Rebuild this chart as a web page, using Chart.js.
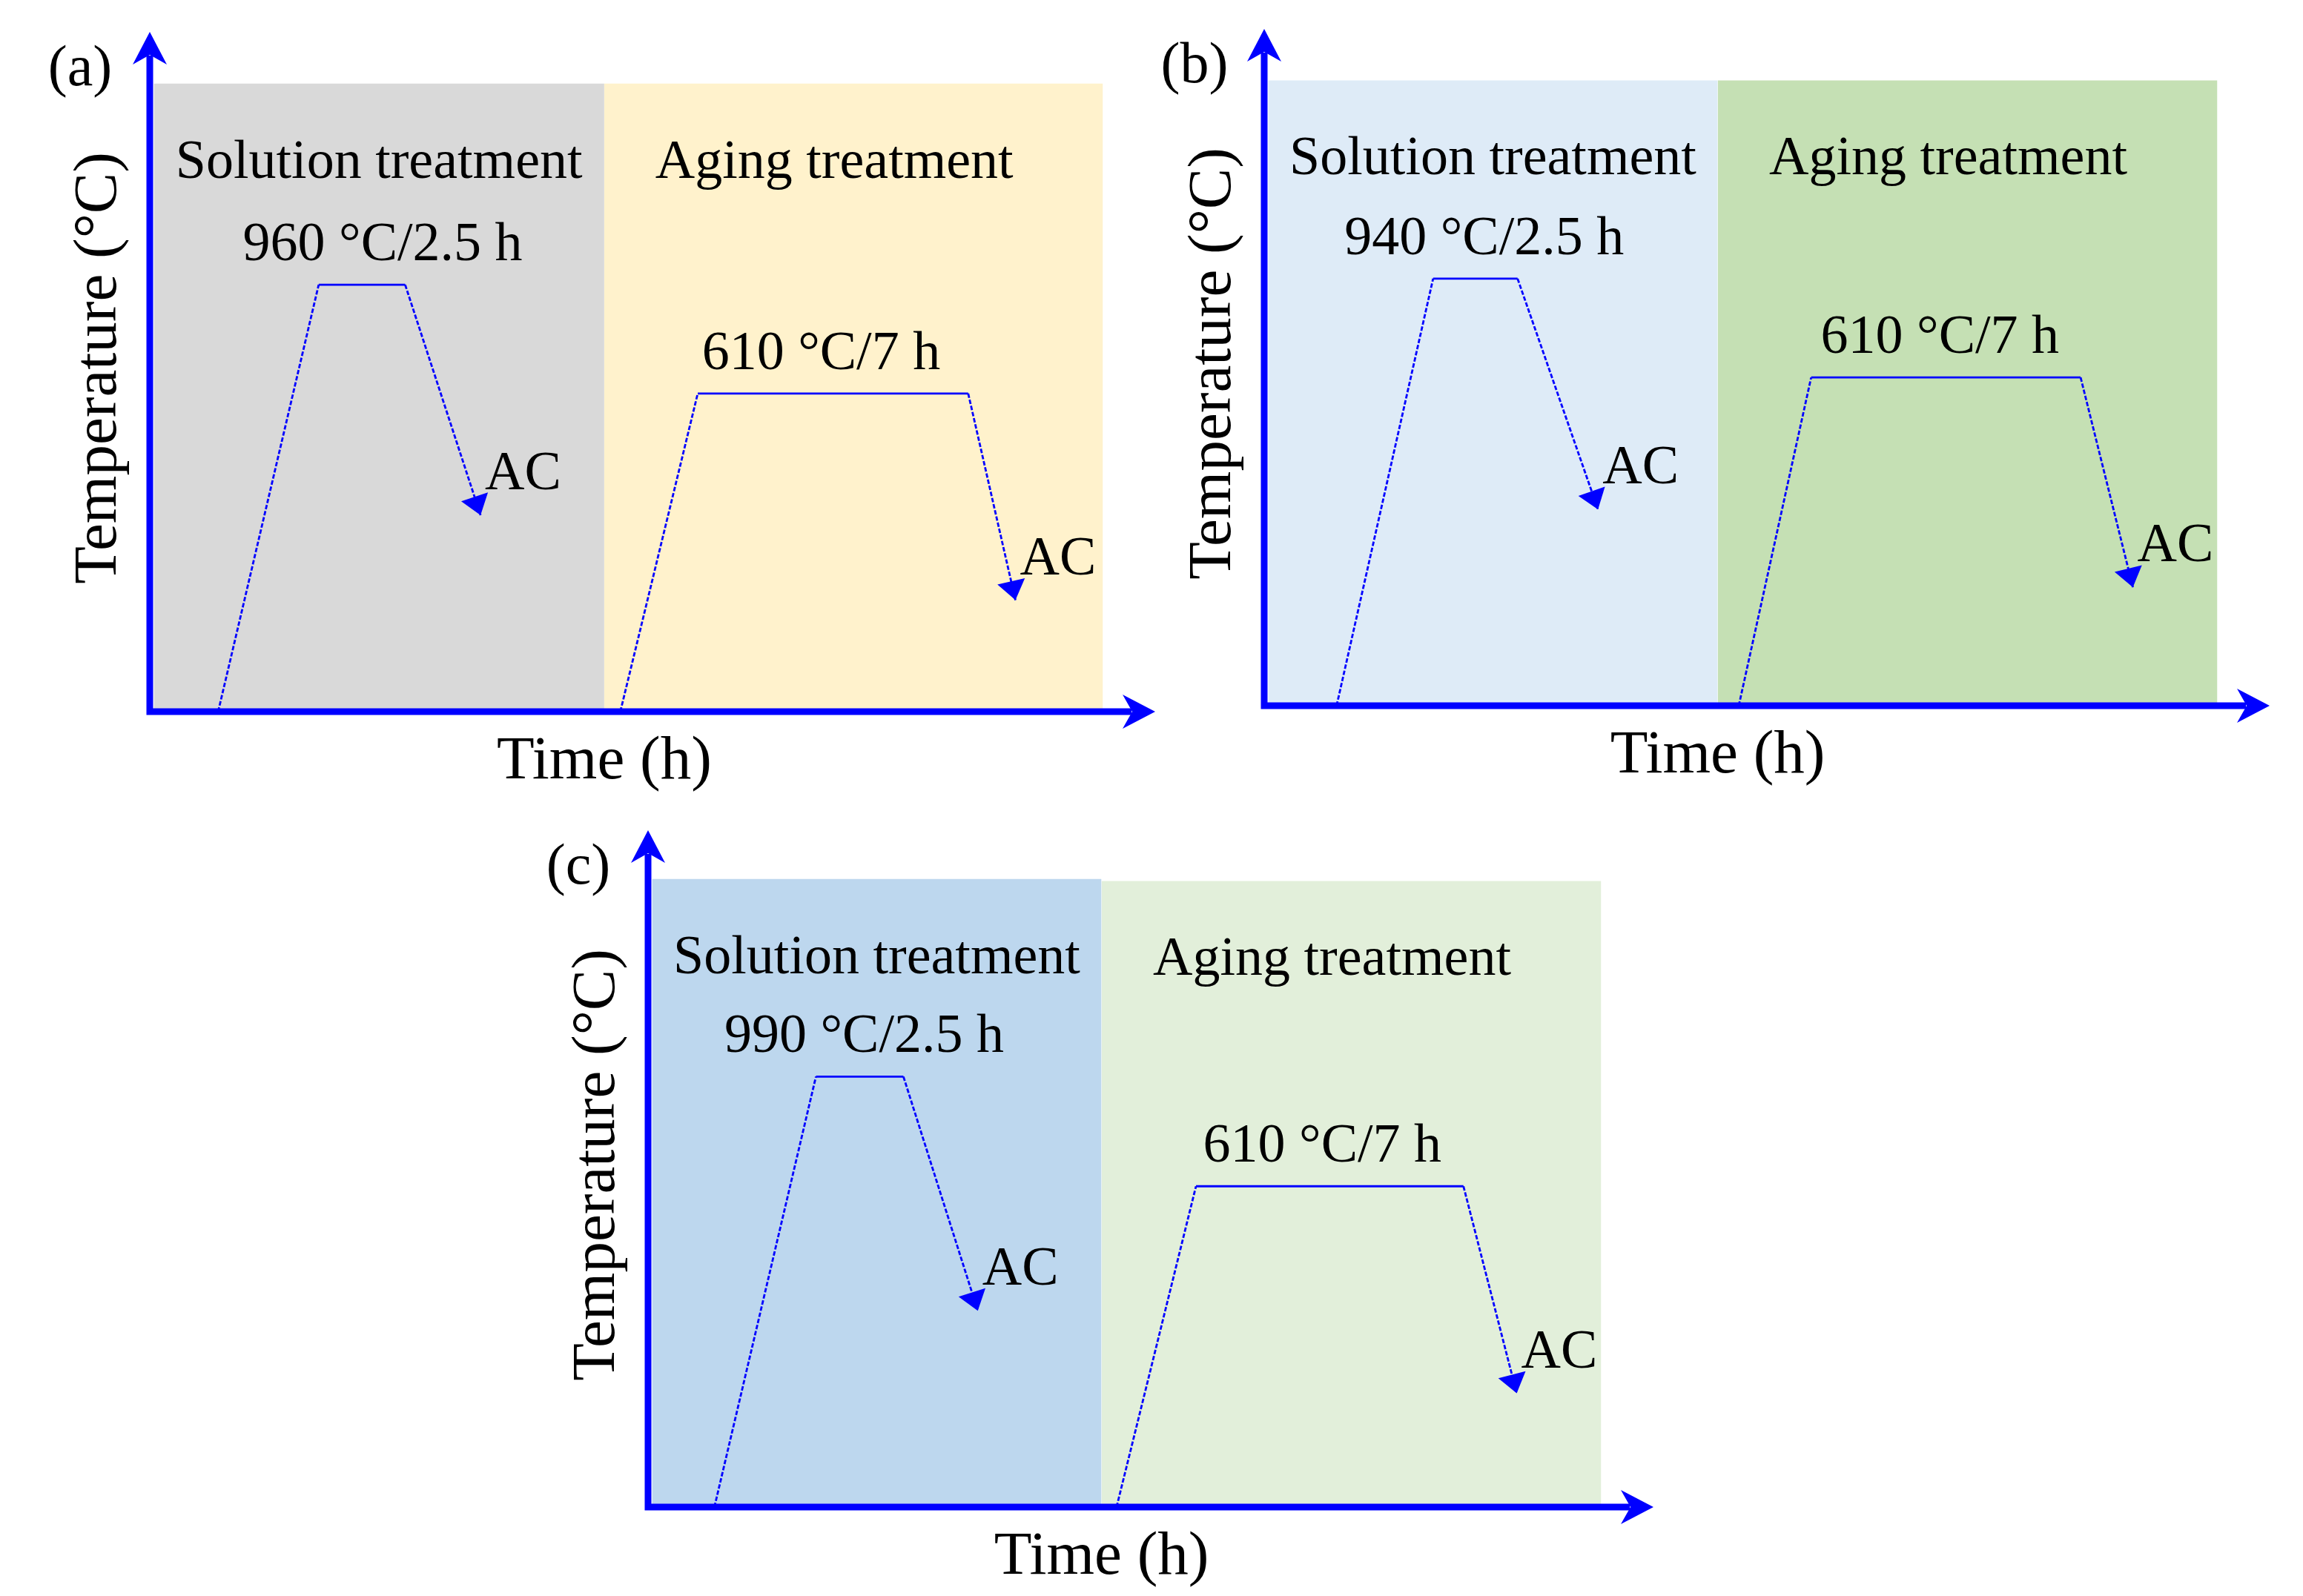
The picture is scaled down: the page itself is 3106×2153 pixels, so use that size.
<!DOCTYPE html>
<html>
<head>
<meta charset="utf-8">
<title>Heat treatment schedules</title>
<script src="https://cdn.jsdelivr.net/npm/chart.js@4.4.1/dist/chart.umd.min.js"></script>
<style>
  html, body { margin: 0; padding: 0; background: #fff; }
  #page { position: relative; width: 3106px; height: 2153px; overflow: hidden; background: #fff; }
  canvas { position: absolute; }
</style>
</head>
<body>
<div id="page">
  <canvas id="panelA" width="1600" height="1090" style="left:0px;top:0px"></canvas>
  <canvas id="panelB" width="1566" height="1090" style="left:1540px;top:0px"></canvas>
  <canvas id="panelC" width="1600" height="1053" style="left:700px;top:1100px"></canvas>
</div>
<script>
// ---- data (axes run 0..100 in arbitrary time / temperature units) ----
const regionTitles = ["Solution treatment", "Aging treatment"];
const panelLetters = ["(a)", "(b)", "(c)"];
const xTitle = "Time (h)";
const yTitle = "Temperature (°C)";
const coolLabel = "AC";

// panel (a)
const regionStartA = [0.4, 45.2];
const regionEndA = [45.2, 94.8];
const regionTopA = [92.4, 92.4];
const solutionTimeA = [6.8, 16.8, 25.4, 32.9];
const solutionTempA = [0, 62.8, 62.8, 28.9];
const agingTimeA = [46.8, 54.5, 81.4, 86.1];
const agingTempA = [0, 46.8, 46.8, 16.4];
const holdLabelsA = ["960 °C/2.5 h", "610 °C/7 h"];

// panel (b)
const regionStartB = [0.4, 45.1];
const regionEndB = [45.1, 94.8];
const regionTopB = [92.4, 92.4];
const solutionTimeB = [7.2, 16.8, 25.2, 33.2];
const solutionTempB = [0, 63.1, 63.1, 29.0];
const agingTimeB = [47.2, 54.4, 81.2, 86.4];
const agingTempB = [0, 48.5, 48.5, 17.5];
const holdLabelsB = ["940 °C/2.5 h", "610 °C/7 h"];

// panel (c)
const regionStartC = [0.4, 45.1];
const regionEndC = [45.1, 94.8];
const regionTopC = [92.8, 92.5];
const solutionTimeC = [6.6, 16.7, 25.4, 32.8];
const solutionTempC = [0, 63.6, 63.6, 29.0];
const agingTimeC = [46.6, 54.5, 81.1, 86.4];
const agingTempC = [0, 47.4, 47.4, 16.8];
const holdLabelsC = ["990 °C/2.5 h", "610 °C/7 h"];

// ---- styles ----
const BLUE = "#0000ff";
const SERIF = '"Liberation Serif", "Times New Roman", serif';
const colorsA = ["#d9d9d9", "#fff2cc"];
const colorsB = ["#deebf7", "#c5e0b4"];
const colorsC = ["#bdd7ee", "#e2efda"];
const titleShift = [0, -26];

function zipPoints(xs, ys) {
  return xs.map((x, i) => ({ x: x, y: ys[i] }));
}

function rectPoints(start, end, top) {
  return [{ x: start, y: 0 }, { x: start, y: top }, { x: end, y: top }, { x: end, y: 0 }];
}

// stealth arrow head pointing along (dx, dy)
function drawStealth(ctx, tipX, tipY, dx, dy, len, hw, notch) {
  const px = -dy, py = dx;
  const bx = tipX - dx * len, by = tipY - dy * len;
  const nx = tipX - dx * (len - notch), ny = tipY - dy * (len - notch);
  ctx.beginPath();
  ctx.moveTo(tipX, tipY);
  ctx.lineTo(bx + px * hw, by + py * hw);
  ctx.lineTo(nx, ny);
  ctx.lineTo(bx - px * hw, by - py * hw);
  ctx.closePath();
  ctx.fill();
}

function decor(cfg) {
  return {
    id: "panelDecor",
    afterDatasetsDraw(chart) {
      const ctx = chart.ctx;
      ctx.save();
      ctx.fillStyle = BLUE;
      chart.data.datasets.forEach((ds, i) => {
        if (!ds.isProfile) return;
        const pts = chart.getDatasetMeta(i).data;
        const p0 = pts[pts.length - 2], p1 = pts[pts.length - 1];
        const a = Math.atan2(p1.y - p0.y, p1.x - p0.x);
        drawStealth(ctx, p1.x, p1.y, Math.cos(a), Math.sin(a), 26, 19, 0);
      });
      ctx.restore();
    },
    afterDraw(chart) {
      const ctx = chart.ctx;
      const area = chart.chartArea;
      const sx = chart.scales.x, sy = chart.scales.y;
      ctx.save();

      // axes with arrows
      ctx.strokeStyle = BLUE;
      ctx.fillStyle = BLUE;
      ctx.lineWidth = 9;
      ctx.beginPath();
      ctx.moveTo(area.left, area.bottom + 4.5);
      ctx.lineTo(area.left, area.top + 32);
      ctx.moveTo(area.left - 4.5, area.bottom);
      ctx.lineTo(area.right - 32, area.bottom);
      ctx.stroke();
      drawStealth(ctx, area.left, area.top, 0, -1, 44, 23, 13);
      drawStealth(ctx, area.right, area.bottom, 1, 0, 44, 23, 13);

      ctx.fillStyle = "#000";
      ctx.textBaseline = "alphabetic";

      // region titles
      ctx.font = "74px " + SERIF;
      ctx.textAlign = "center";
      regionTitles.forEach((t, i) => {
        const cx = (sx.getPixelForValue(cfg.starts[i]) + sx.getPixelForValue(cfg.ends[i])) / 2;
        ctx.fillText(t, cx + titleShift[i], sy.getPixelForValue(cfg.tops[i]) + 127);
      });

      // hold labels and AC labels
      [cfg.solution, cfg.aging].forEach((prof, i) => {
        const hx = (sx.getPixelForValue(prof.t[1]) + sx.getPixelForValue(prof.t[2])) / 2;
        const hy = sy.getPixelForValue(prof.T[1]);
        ctx.textAlign = "center";
        ctx.fillText(cfg.holdLabels[i], hx + cfg.holdShift[i], hy - 33);
        const n = prof.t.length - 1;
        ctx.textAlign = "left";
        ctx.fillText(coolLabel, sx.getPixelForValue(prof.t[n]) + 6, sy.getPixelForValue(prof.T[n]) - 35);
      });

      // axis titles
      ctx.font = "83px " + SERIF;
      ctx.textAlign = "center";
      ctx.fillText(xTitle, sx.getPixelForValue(cfg.ends[0]), area.bottom + 90);
      ctx.save();
      ctx.translate(area.left - 46, (area.top + area.bottom) / 2 - 5);
      ctx.rotate(-Math.PI / 2);
      ctx.fillText(yTitle, 0, 0);
      ctx.restore();

      // panel letter
      ctx.font = "78px " + SERIF;
      ctx.fillText(cfg.letter, area.left - 94, area.top + 72);
      ctx.restore();
    },
  };
}

function makePanel(cfg) {
  const regions = cfg.starts.map((s, i) => ({
    data: rectPoints(s, cfg.ends[i], cfg.tops[i]),
    fill: "origin",
    backgroundColor: cfg.colors[i],
    borderColor: "rgba(0,0,0,0)",
    borderWidth: 0,
    pointRadius: 0,
    tension: 0,
    order: 1,
  }));
  const profiles = [cfg.solution, cfg.aging].map((p) => ({
    isProfile: true,
    data: zipPoints(p.t, p.T),
    fill: false,
    borderColor: BLUE,
    borderWidth: 2.8,
    pointRadius: 0,
    tension: 0,
    order: 0,
    segment: {
      borderDash: (c) => (c.p0.parsed.y === c.p1.parsed.y ? undefined : [6, 2.5]),
    },
  }));

  return new Chart(document.getElementById(cfg.canvas), {
    type: "line",
    data: { datasets: profiles.concat(regions) },
    options: {
      responsive: false,
      animation: false,
      devicePixelRatio: 1,
      events: [],
      layout: { padding: cfg.padding },
      scales: {
        x: { type: "linear", min: 0, max: 100, display: false },
        y: { type: "linear", min: 0, max: 100, display: false },
      },
      plugins: {
        legend: { display: false },
        tooltip: { enabled: false },
      },
    },
    plugins: [decor(cfg)],
  });
}

makePanel({
  canvas: "panelA",
  padding: { left: 202, top: 43, right: 42, bottom: 130 },
  letter: panelLetters[0],
  starts: regionStartA, ends: regionEndA, tops: regionTopA, colors: colorsA,
  solution: { t: solutionTimeA, T: solutionTempA },
  aging: { t: agingTimeA, T: agingTempA },
  holdLabels: holdLabelsA,
  holdShift: [28, -16],
});

makePanel({
  canvas: "panelB",
  padding: { left: 165, top: 39, right: 45, bottom: 138 },
  letter: panelLetters[1],
  starts: regionStartB, ends: regionEndB, tops: regionTopB, colors: colorsB,
  solution: { t: solutionTimeB, T: solutionTempB },
  aging: { t: agingTimeB, T: agingTempB },
  holdLabels: holdLabelsB,
  holdShift: [12, -8],
});

makePanel({
  canvas: "panelC",
  padding: { left: 174, top: 20, right: 70, bottom: 120 },
  letter: panelLetters[2],
  starts: regionStartC, ends: regionEndC, tops: regionTopC, colors: colorsC,
  solution: { t: solutionTimeC, T: solutionTempC },
  aging: { t: agingTimeC, T: agingTempC },
  holdLabels: holdLabelsC,
  holdShift: [6, -10],
});
</script>
</body>
</html>
